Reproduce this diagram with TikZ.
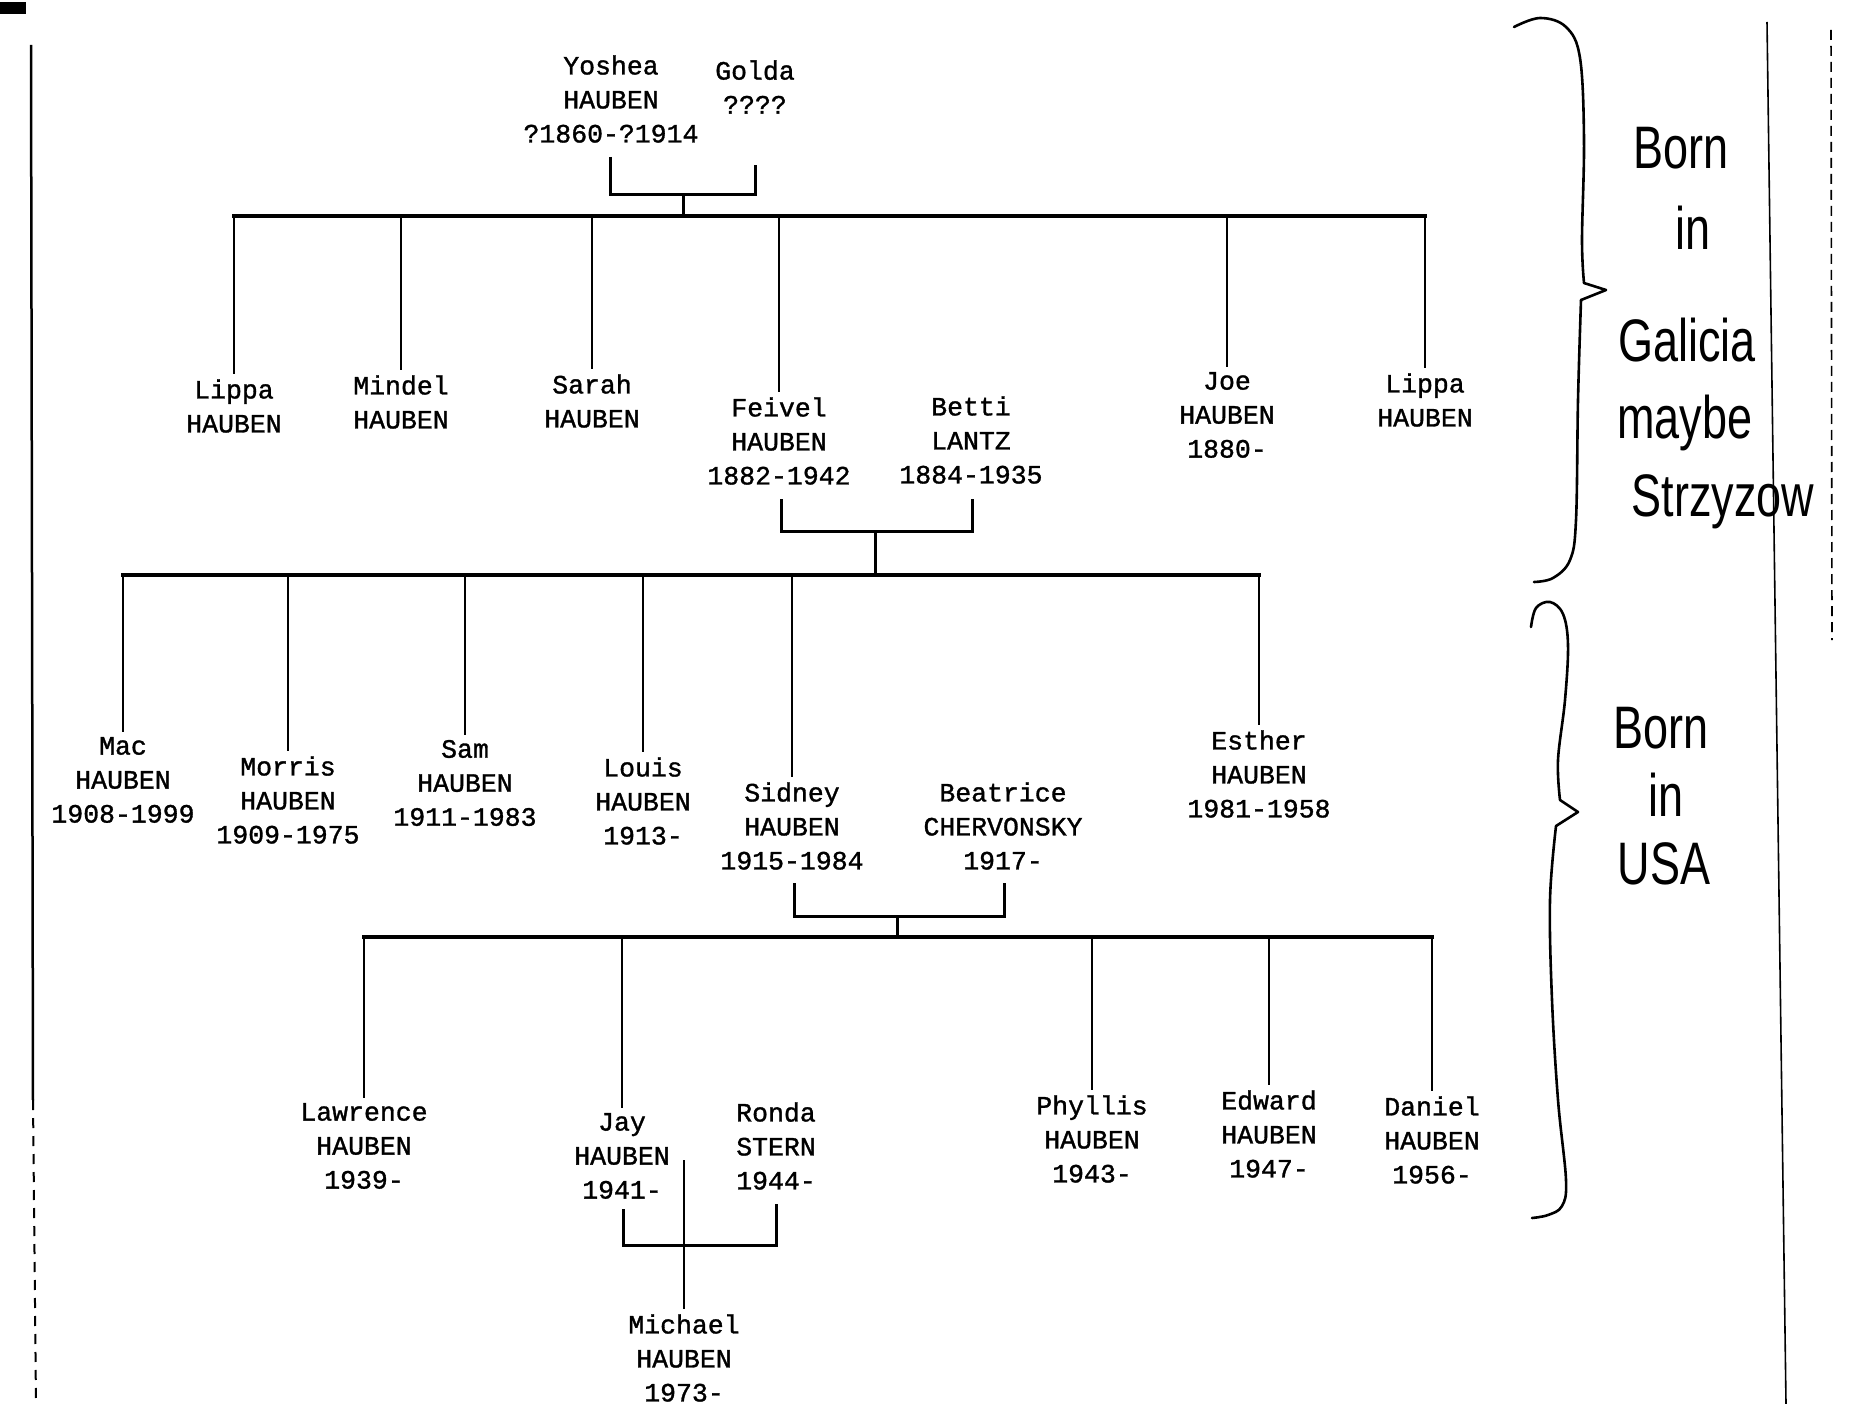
\documentclass[tikz,border=0pt]{standalone}
\usepackage{fontspec}
\newfontfamily\pmono[FakeBold=1.2]{Liberation Mono}
\newfontfamily\handfont[FakeStretch=0.75]{Liberation Sans}
\begin{document}
\begin{tikzpicture}[x=1pt,y=-1pt,
 person/.style={align=center,font=\fontsize{26.5}{34}\selectfont\pmono,inner sep=5pt},
 hand/.style={font=\fontsize{60}{60}\selectfont\handfont,inner sep=0pt},
 bar/.style={line width=3.5pt,line cap=rect},
 drop/.style={line width=2.6pt},
 couple/.style={line width=3pt},
 brace/.style={line width=2.6pt,line cap=round,line join=round},
 scan/.style={line width=1.6pt}]
\fill[white] (0,0) rectangle (1850,1404);
\useasboundingbox (0,0) rectangle (1850,1404);

% generation 1
\node[person] (yoshea) at (611,99) {Yoshea\\HAUBEN\\?1860-?1914};
\node[person] (golda) at (755,87) {Golda\\????};
% generation 2
\node[person] (lippaA) at (234,406) {Lippa\\HAUBEN};
\node[person] (mindel) at (401,402) {Mindel\\HAUBEN};
\node[person] (sarah) at (592,401) {Sarah\\HAUBEN};
\node[person] (feivel) at (779,441) {Feivel\\HAUBEN\\1882-1942};
\node[person] (betti) at (971,440) {Betti\\LANTZ\\1884-1935};
\node[person] (joe) at (1227,415) {Joe\\HAUBEN\\1880-};
\node[person] (lippaB) at (1425,400) {Lippa\\HAUBEN};
% generation 3
\node[person] (mac) at (123,780) {Mac\\HAUBEN\\1908-1999};
\node[person] (morris) at (288,800) {Morris\\HAUBEN\\1909-1975};
\node[person] (sam) at (465,783) {Sam\\HAUBEN\\1911-1983};
\node[person] (louis) at (643,801) {Louis\\HAUBEN\\1913-};
\node[person] (sidney) at (792,826) {Sidney\\HAUBEN\\1915-1984};
\node[person] (beatrice) at (1003,826) {Beatrice\\CHERVONSKY\\1917-};
\node[person] (esther) at (1259,774) {Esther\\HAUBEN\\1981-1958};
% generation 4
\node[person] (lawrence) at (364,1146) {Lawrence\\HAUBEN\\1939-};
\node[person] (jay) at (622,1156) {Jay\\HAUBEN\\1941-};
\node[person] (ronda) at (776,1146) {Ronda\\STERN\\1944-};
\node[person] (phyllis) at (1092,1139) {Phyllis\\HAUBEN\\1943-};
\node[person] (edward) at (1269,1134) {Edward\\HAUBEN\\1947-};
\node[person] (daniel) at (1432,1140) {Daniel\\HAUBEN\\1956-};
% generation 5
\node[person] (michael) at (684,1358) {Michael\\HAUBEN\\1973-};

% couple 1
\coordinate (yl) at (610,157); \coordinate (gl) at (755,165);
\coordinate (m1) at (683,195); \coordinate (b1) at (683,216);
\draw[couple] (yl) |- (m1) -| (gl);
\draw[couple] (m1) -- (b1);
\draw[bar] (lippaA.north |- b1) -- (lippaB.north |- b1);
\foreach \n in {lippaA,mindel,sarah,feivel,joe,lippaB}
  \draw[drop] (\n.north |- b1) -- (\n.north);

% couple 2
\coordinate (fl) at (781,499); \coordinate (bl) at (972,499);
\coordinate (m2) at (875,531); \coordinate (b2) at (875,575);
\draw[couple] (fl) |- (m2) -| (bl);
\draw[couple] (m2) -- (b2);
\draw[bar] (mac.north |- b2) -- (esther.north |- b2);
\foreach \n in {mac,morris,sam,louis,sidney,esther}
  \draw[drop] (\n.north |- b2) -- (\n.north);

% couple 3
\coordinate (sl) at (794,883); \coordinate (bel) at (1004,883);
\coordinate (m3) at (897,916); \coordinate (b3) at (897,937);
\draw[couple] (sl) |- (m3) -| (bel);
\draw[couple] (m3) -- (b3);
\draw[bar] (lawrence.north |- b3) -- (daniel.north |- b3);
\foreach \n in {lawrence,jay,phyllis,edward,daniel}
  \draw[drop] (\n.north |- b3) -- (\n.north);

% couple 4
\coordinate (jl) at (623,1209); \coordinate (rl) at (776,1204);
\coordinate (m4) at (684,1245); \coordinate (mt) at (684,1160);
\draw[couple] (jl) |- (m4) -| (rl);
\draw[drop] (mt) -- (michael.north);

% handwritten braces
\draw[brace] plot[smooth,tension=0.6] coordinates {(1514,27) (1540,18) (1566,27) (1580,58) (1584,140) (1582,240) (1584,283)};
\draw[brace] (1584,283) -- (1606,290) -- (1581,300);
\draw[brace] plot[smooth,tension=0.6] coordinates {(1581,300) (1578,400) (1576,520) (1570,560) (1553,578) (1534,582)};

\draw[brace] plot[smooth,tension=0.6] coordinates {(1531,627) (1536,608) (1550,602) (1563,614) (1568,645) (1565,700) (1558,760) (1560,800)};
\draw[brace] (1560,800) -- (1578,812) -- (1556,826);
\draw[brace] plot[smooth,tension=0.6] coordinates {(1556,826) (1550,900) (1552,1000) (1558,1100) (1566,1180) (1562,1206) (1548,1215) (1532,1218)};

% handwritten notes
\node[hand] (h1) at (1681,148) {Born};
\node[hand] (h2) at (1693,228) {in};
\node[hand] (h3) at (1687,340) {Galicia};
\node[hand] (h4) at (1685,423) {maybe};
\node[hand] (h5) at (1723,502) {Strzyzow};
\node[hand] (h6) at (1661,728) {Born};
\node[hand] (h7) at (1666,795) {in};
\node[hand] (h8) at (1664,864) {USA};

% scan marks
\fill (0,2) rectangle (26,14);
\draw[line width=2.5pt] (31,45) -- (33,1100);
\draw[line width=2pt,dash pattern=on 10pt off 8pt] (33,1100) -- (36,1404);
\draw[scan] (1767,22) -- (1786,1404);
\draw[scan,dash pattern=on 10pt off 6pt] (1831,30) -- (1832,640);
\end{tikzpicture}
\end{document}
